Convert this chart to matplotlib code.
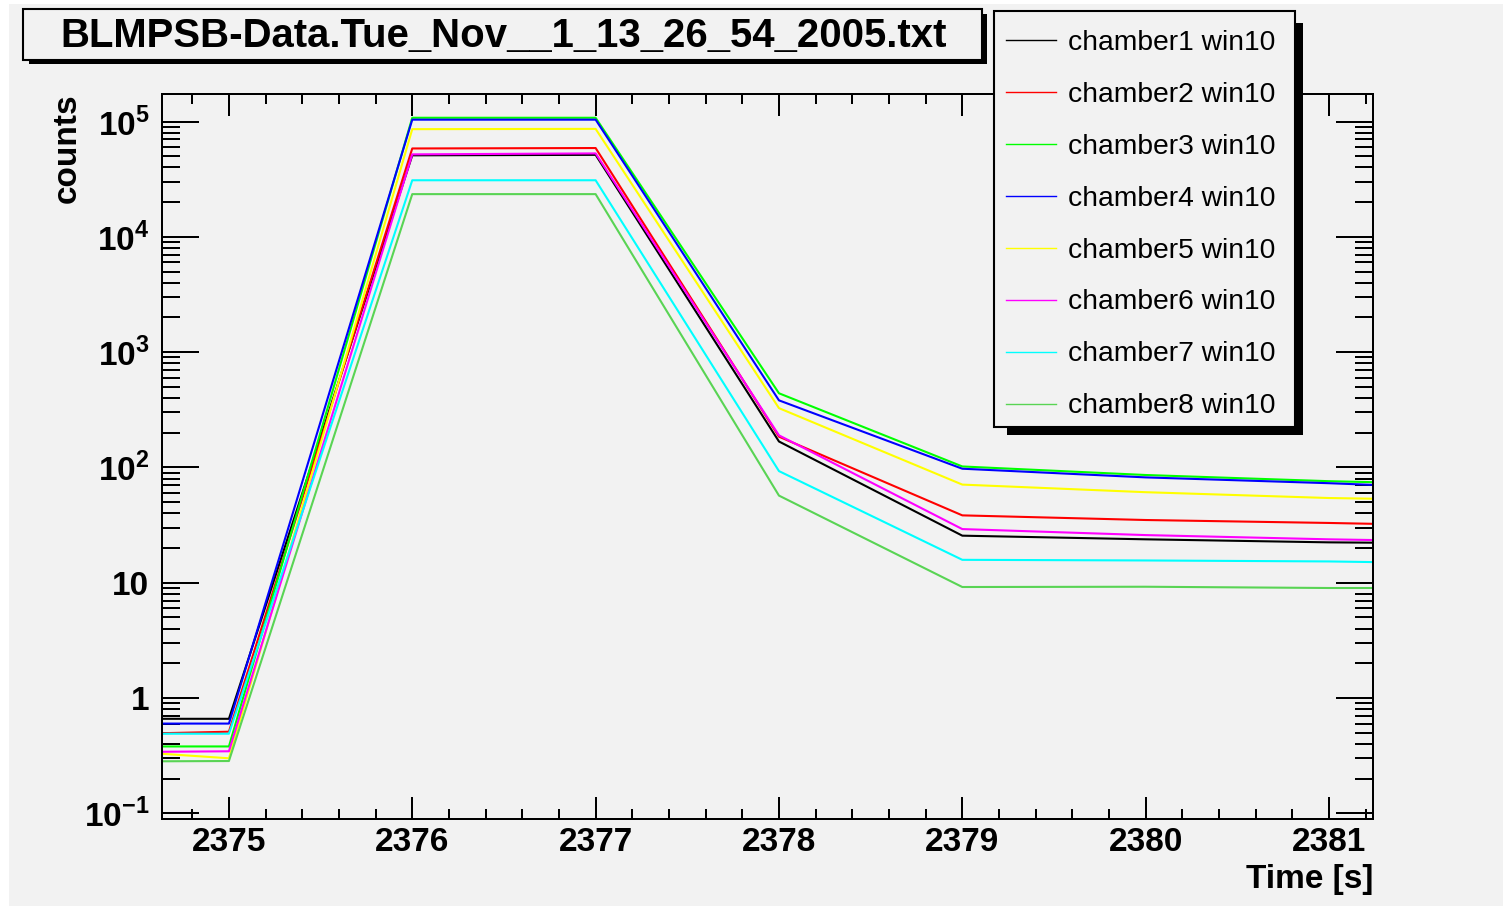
import matplotlib
matplotlib.use("Agg")
import matplotlib.pyplot as plt
from matplotlib.patches import Rectangle
from matplotlib.ticker import LogLocator, MultipleLocator, FixedLocator, FixedFormatter, NullFormatter

plt.rcParams["font.family"] = ["Liberation Sans", "DejaVu Sans"]
plt.rcParams["mathtext.fontset"] = "custom"
plt.rcParams["mathtext.rm"] = "Liberation Sans:bold"
plt.rcParams["mathtext.bf"] = "Liberation Sans:bold"

title = "BLMPSB-Data.Tue_Nov__1_13_26_54_2005.txt"

# time stamps [s]
time_s = [2374, 2375, 2376, 2377, 2378, 2379, 2380, 2381, 2382]

chamber1 = [0.66, 0.66, 5.1e4, 5.15e4, 168, 25.6, 23.8, 22.4, 21.8]
chamber2 = [0.47, 0.51, 5.85e4, 5.9e4, 185, 38.4, 35.0, 33.0, 30.7]
chamber3 = [0.38, 0.38, 1.08e5, 1.08e5, 440, 102, 86, 76, 70]
chamber4 = [0.60, 0.60, 1.04e5, 1.04e5, 382, 97.5, 82, 73, 63.5]
chamber5 = [0.384, 0.30, 8.6e4, 8.65e4, 327, 71, 61, 54.3, 51.3]
chamber6 = [0.336, 0.345, 5.2e4, 5.3e4, 190, 29.2, 25.9, 23.8, 22.4]
chamber7 = [0.49, 0.49, 3.1e4, 3.1e4, 93, 15.8, 15.6, 15.3, 14.5]
chamber8 = [0.28, 0.284, 2.35e4, 2.35e4, 57, 9.18, 9.23, 9.0, 9.0]

series = [chamber1, chamber2, chamber3, chamber4, chamber5, chamber6, chamber7, chamber8]
labels = [f"chamber{i} win10" for i in range(1, 9)]
colors = ["black", "#ff0000", "#00ff00", "#0000ff", "#ffff00", "#ff00ff", "#00ffff", "#59d454"]

ytick_values = [0.1, 1, 10, 100, 1e3, 1e4, 1e5]
ytick_labels = [r"$10^{-1}$", "1", "10", r"$10^{2}$", r"$10^{3}$", r"$10^{4}$", r"$10^{5}$"]

W, H = 1503, 906
BG = "#f2f2f2"


def px_rect(x0, y0, x1, y1, **kw):
    """rectangle given in pixel coords (origin top left)"""
    return Rectangle((x0 / W, 1 - y1 / H), (x1 - x0) / W, (y1 - y0) / H,
                     transform=fig.transFigure, **kw)


fig = plt.figure(figsize=(W / 100, H / 100), dpi=100, facecolor="white")
fig.patches.append(px_rect(9, 4, W, H, facecolor=BG, edgecolor="none", zorder=-1))

ax = fig.add_axes([162 / W, 1 - 818.7 / H, (1373 - 162) / W, (818.7 - 94.3) / H])
ax.set_facecolor(BG)

for vals, lab, col in zip(series, labels, colors):
    ax.plot(time_s, vals, color=col, lw=1.5, label=lab)

ax.set_yscale("log")
ax.set_xlim(2374.635, 2381.24)
ax.set_ylim(10 ** -1.047, 10 ** 5.237)

ax.xaxis.set_major_locator(MultipleLocator(1))
ax.xaxis.set_minor_locator(MultipleLocator(0.2))
ax.yaxis.set_major_locator(FixedLocator(ytick_values))
ax.yaxis.set_major_formatter(FixedFormatter(ytick_labels))
ax.yaxis.set_minor_locator(LogLocator(base=10, subs=range(2, 10), numticks=20))
ax.yaxis.set_minor_formatter(NullFormatter())

ax.tick_params(which="both", direction="in", top=True, right=True, width=1.44, colors="black")
ax.tick_params(axis="x", which="major", length=15.8, labelsize=24, pad=6)
ax.tick_params(axis="x", which="minor", length=7.2)
ax.tick_params(axis="y", which="major", length=26.6, labelsize=24, pad=9)
ax.tick_params(axis="y", which="minor", length=13)
for lbl in ax.get_xticklabels() + ax.get_yticklabels():
    lbl.set_fontweight("bold")
for sp in ax.spines.values():
    sp.set_linewidth(1.44)

ax.set_xlabel("Time [s]", loc="right", fontsize=24, fontweight="bold", labelpad=4)
fig.text(67 / W, 1 - 93 / H, "counts", rotation=90, ha="center", va="top",
         fontsize=24, fontweight="bold")

# title box with shadow
fig.patches.append(px_rect(29, 14, 987, 64, facecolor="black", edgecolor="none", zorder=1.5))
fig.patches.append(px_rect(23, 9, 982, 60, facecolor=BG, edgecolor="black", lw=1.5, zorder=2))
fig.text(504 / W, 1 - 36 / H, title, ha="center", va="center",
         fontsize=28.9, fontweight="bold", zorder=3)

# legend box with shadow, entries drawn on top without frame
fig.patches.append(px_rect(1007, 22.7, 1303, 434.7, facecolor="black", edgecolor="none", zorder=1))
fig.patches.append(px_rect(994.3, 10.7, 1295, 427, facecolor=BG, edgecolor="black", lw=1.5, zorder=4))
leg = fig.legend(loc="upper left", bbox_to_anchor=(991.5 / W, 1 - 15.7 / H),
                 borderaxespad=0, fontsize=20.3, handlelength=1.8,
                 handletextpad=0.4, labelspacing=0.92, borderpad=0.5, frameon=False)
leg.set_zorder(5)
for h in leg.get_lines():
    h.set_linewidth(1.0)

fig.savefig("out.png", dpi=100, facecolor=fig.get_facecolor())
